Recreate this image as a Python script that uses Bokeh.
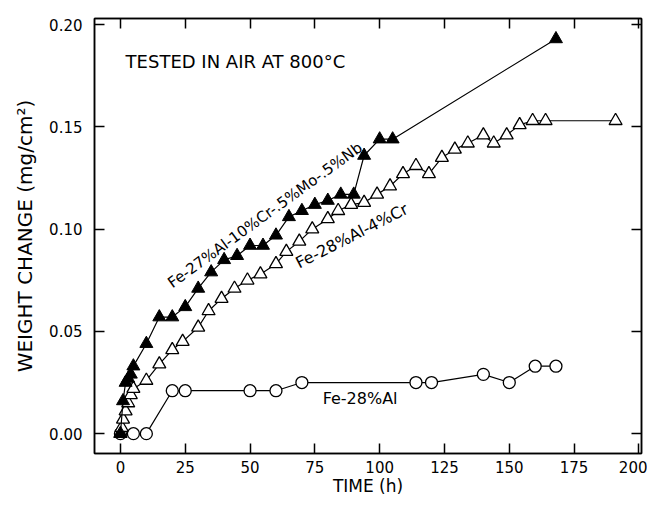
from bokeh.plotting import figure
from bokeh.models import (Range1d, LinearAxis, Label, FixedTicker, CustomJSTickFormatter,
                          CustomLabelingPolicy)
from bokeh.embed import file_html
from bokeh.resources import INLINE

# Fe-28%Al (open circles)
t_al = [0, 5, 10, 20, 25, 50, 60, 70, 114, 120, 140, 150, 160, 168]
w_al = [0.000, 0.000, 0.000, 0.021, 0.021, 0.021, 0.021, 0.025, 0.025, 0.025, 0.029, 0.025, 0.033, 0.033]

# Fe-28%Al-4%Cr (open triangles)
t_cr = [0, 0.5, 1, 2, 3, 4, 5, 10, 15, 20, 24, 30, 34, 39, 44, 49, 54, 60, 64, 69, 74,
        80, 84, 89, 94, 99, 104, 109, 114, 119, 124, 129, 134, 140, 144, 149, 154, 159, 164, 191]
w_cr = [0.000, 0.003, 0.007, 0.011, 0.015, 0.019, 0.022, 0.026, 0.034, 0.041, 0.045, 0.052,
        0.060, 0.066, 0.071, 0.075, 0.078, 0.083, 0.089, 0.094, 0.100, 0.105, 0.109, 0.112,
        0.113, 0.117, 0.121, 0.127, 0.131, 0.127, 0.135, 0.139, 0.142, 0.146, 0.142, 0.146,
        0.151, 0.153, 0.153, 0.153]

# Fe-27%Al-10%Cr-.5%Mo-.5%Nb (filled triangles)
t_nb = [0, 1, 2, 3, 4, 5, 10, 15, 20, 25, 30, 35, 40, 45, 50, 55, 60, 65, 70, 75, 80, 85, 90,
        94, 100, 105, 168]
w_nb = [0.000, 0.016, 0.025, 0.027, 0.029, 0.033, 0.044, 0.057, 0.057, 0.062, 0.071, 0.079,
        0.085, 0.087, 0.092, 0.092, 0.097, 0.106, 0.109, 0.112, 0.114, 0.117, 0.117, 0.136,
        0.144, 0.144, 0.193]

x_ticks = [0, 25, 50, 75, 100, 125, 150, 175, 200]
y_ticks = [0.0, 0.05, 0.10, 0.15, 0.20]

FONT = "DejaVu Sans"

p = figure(width=647, height=498, output_backend="svg", toolbar_location=None,
           x_range=Range1d(-10, 201), y_range=Range1d(-0.0097, 0.203),
           min_border_left=94, min_border_top=18, min_border_right=6, min_border_bottom=39)
p.xgrid.visible = False
p.ygrid.visible = False
p.outline_line_color = "black"
p.outline_line_width = 1.5
p.background_fill_color = "white"
p.border_fill_color = "white"

fmt_y = CustomJSTickFormatter(code="return tick.toFixed(2);")
no_labels = CustomLabelingPolicy(code="return [];")

def style_axis(ax, ticks, show_labels):
    ax.ticker = FixedTicker(ticks=ticks)
    ax.major_tick_in = 10
    ax.major_tick_out = 0
    ax.minor_tick_in = 0
    ax.minor_tick_out = 0
    ax.major_tick_line_color = "black"
    ax.major_tick_line_width = 1.5
    ax.axis_line_color = "black"
    ax.axis_line_width = 1.5
    ax.major_label_text_font = FONT
    ax.major_label_text_color = "black"
    ax.axis_label_text_font = FONT
    ax.axis_label_text_font_style = "normal"
    ax.axis_label_text_color = "black"
    if show_labels:
        ax.major_label_text_font_size = "15px"
    else:
        ax.major_label_text_font_size = "0px"
        ax.major_label_policy = no_labels
        ax.major_label_standoff = 0

xa = p.xaxis[0]
style_axis(xa, x_ticks, True)
xa.major_label_standoff = 7
xa.axis_label = "TIME (h)"
xa.axis_label_standoff = 0
xa.axis_label_text_font_size = "17px"

ya = p.yaxis[0]
style_axis(ya, y_ticks, True)
ya.formatter = fmt_y
ya.major_label_standoff = 12
ya.axis_label = "WEIGHT CHANGE (mg/cm²)"
ya.axis_label_standoff = 9
ya.axis_label_text_font_size = "20px"

top = LinearAxis()
style_axis(top, x_ticks, False)
p.add_layout(top, "above")
right = LinearAxis()
style_axis(right, y_ticks, False)
p.add_layout(right, "right")

# Fe-28%Al
p.line(t_al, w_al, line_color="black", line_width=1.2)
p.scatter(t_al, w_al, marker="circle", size=12, fill_color="white", line_color="black", line_width=1.3)

# Fe-28%Al-4%Cr
p.line(t_cr, w_cr, line_color="black", line_width=1.2)
p.scatter(t_cr, w_cr, marker="triangle", size=13, fill_color="white", line_color="black", line_width=1.3)

# Fe-27%Al-10%Cr-.5%Mo-.5%Nb
p.line(t_nb, w_nb, line_color="black", line_width=1.2)
p.scatter(t_nb, w_nb, marker="triangle", size=13, fill_color="black", line_color="black", line_width=1.0)

labels = [
    dict(x=2, y=0.182, text="TESTED IN AIR AT 800°C", angle=0, size="18px"),
    dict(x=78, y=0.0174, text="Fe-28%Al", angle=0, size="16px"),
    dict(x=68, y=0.083, text="Fe-28%Al-4%Cr", angle=27, size="16px"),
    dict(x=19, y=0.073, text="Fe-27%Al-10%Cr-.5%Mo-.5%Nb", angle=36, size="15px"),
]
for d in labels:
    p.add_layout(Label(x=d["x"], y=d["y"], text=d["text"], angle=d["angle"], angle_units="deg",
                       text_font=FONT, text_font_size=d["size"], text_color="black",
                       text_align="left", text_baseline="middle"))

open("out.html", "w").write(file_html(p, INLINE))
